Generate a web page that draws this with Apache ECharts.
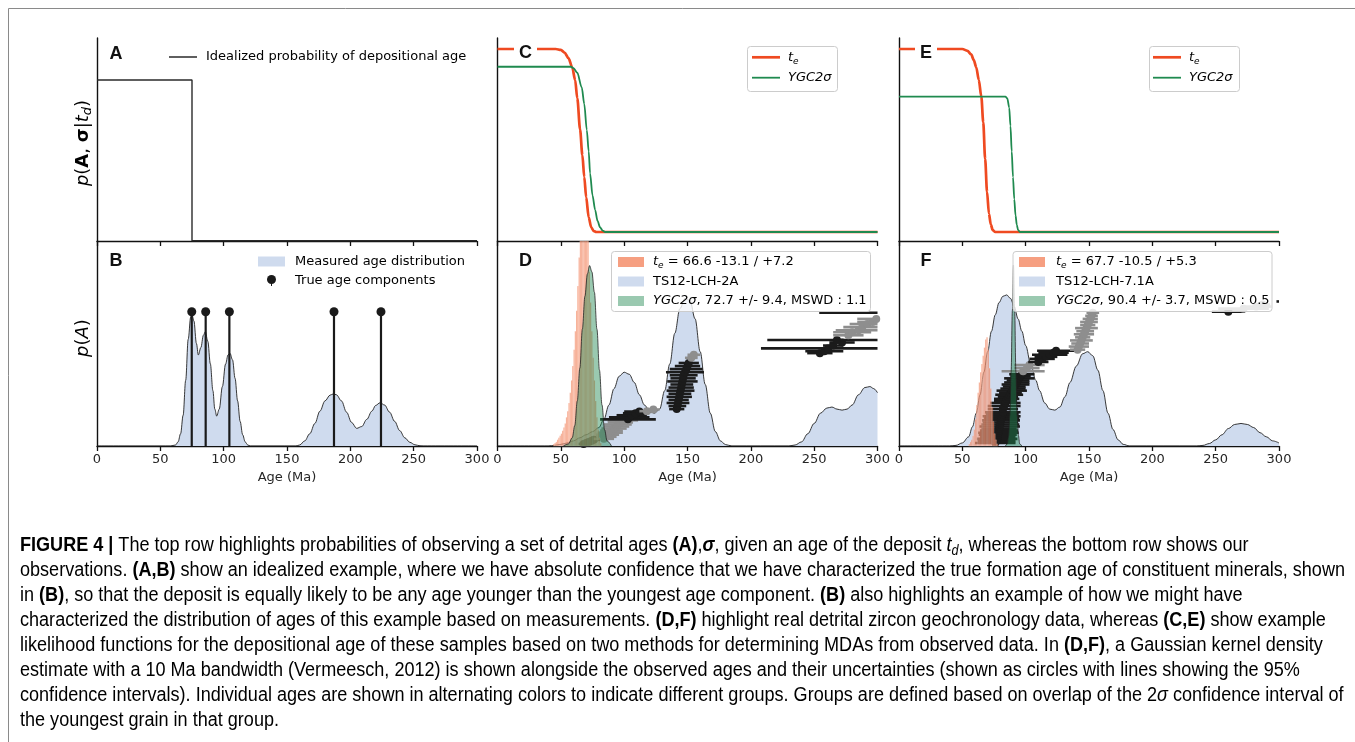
<!DOCTYPE html>
<html><head><meta charset="utf-8">
<script src="https://cdn.jsdelivr.net/npm/echarts@6/dist/echarts.min.js"></script>
<style>html,body{margin:0;padding:0;background:#fff}#c{width:1355px;height:742px}</style>
</head><body><div id="c"></div>
<script>
// ---------------- DATA ----------------
const ageTicks = [0, 50, 100, 150, 200, 250, 300];
// Panel A: idealized step probability [age, p]
const aStep = [[0,1],[75,1],[75,0],[300,0]];
// Panel B: measured age distribution (KDE) [age, density]
const bKde = [[0,0],[58,0],[62,0.005],[64,0.02],[66,0.06],[68,0.15],[70,0.32],[72,0.52],[74,0.63],[75,0.64],[76.5,0.61],[78.5,0.5],[80,0.444],[82,0.48],[84,0.54],[85.5,0.557],[87.5,0.51],[89.5,0.4],[91.5,0.27],[93,0.18],[94.5,0.146],[96.5,0.18],[99,0.29],[101.5,0.4],[103.5,0.445],[105,0.452],[107,0.42],[109,0.33],[111,0.22],[113,0.12],[115,0.055],[117,0.02],[119,0.005],[121,0],
 [157,0],[160,0.005],[164,0.025],[168,0.06],[172,0.11],[176,0.17],[180,0.22],[184,0.248],[186.5,0.254],[189,0.25],[193,0.22],[197,0.165],[201,0.115],[205,0.086],[209,0.095],[213,0.13],[217,0.17],[220,0.198],[223.5,0.211],[227,0.2],[231,0.165],[235,0.12],[239,0.075],[243,0.04],[247,0.018],[251,0.006],[255,0.001],[258,0],[300,0]];
// Panel B: true age components [age, height]
const bTrue = [[74.8,0.655],[85.8,0.655],[104.5,0.655],[187.1,0.655],[224.2,0.655]];
// Panel C likelihoods [age, L]
const cTe = [[0,1],[46,1],[50,0.995],[53,0.98],[56,0.95],[59,0.9],[61.3,0.83],[63,0.73],[65.2,0.56],[67,0.42],[68.5,0.3],[70,0.19],[72,0.08],[74,0.025],[76,0.005],[78,0],[300,0]];
const cYgc = [[0,0.903],[58,0.903],[60,0.895],[63,0.87],[66.5,0.79],[68.5,0.7],[70.5,0.557],[72,0.44],[73.1,0.32],[75,0.2],[77.1,0.12],[79,0.06],[81,0.025],[83,0.008],[85,0],[300,0]];
// Panel E likelihoods
const eTe = [[0,1],[50,1],[54,0.99],[57,0.97],[59,0.94],[61,0.9],[63,0.83],[65,0.74],[66.5,0.6],[68,0.4],[69.5,0.22],[71,0.1],[72.5,0.04],[74,0.01],[76,0],[300,0]];
const eYgc = [[0,0.74],[84,0.74],[85.5,0.73],[87,0.68],[88,0.58],[89,0.44],[90,0.3],[91,0.18],[92,0.09],[93,0.04],[94,0.01],[95.5,0],[300,0]];
// Panel D: KDE of TS12-LCH-2A
const dKde = [[0,0],[40,0],[45,0.003],[50,0.008],[55,0.015],[60,0.025],[65,0.04],[70,0.055],[75,0.07],[80,0.09],[84,0.13],[88,0.2],[92,0.28],[96,0.34],[100,0.36],[104,0.35],[108,0.31],[112,0.25],[116,0.2],[120,0.17],[124,0.16],[128,0.18],[132,0.27],[136,0.4],[140,0.55],[144,0.67],[148,0.72],[152,0.71],[156,0.62],[160,0.46],[164,0.3],[168,0.16],[172,0.07],[176,0.025],[180,0.007],[185,0],[230,0],[235,0.005],[240,0.02],[245,0.06],[250,0.11],[255,0.16],[260,0.185],[264,0.19],[268,0.18],[272,0.175],[276,0.18],[280,0.2],[285,0.25],[290,0.285],[294,0.29],[297,0.28],[300,0.26]];
// Panel D: t_e posterior histogram [bin left edge, height], 1 Ma bins
const histBin = 1;
const dHist = [[44,0.01],[45,0.015],[46,0.02],[47,0.03],[48,0.04],[49,0.05],[50,0.06],[51,0.075],[52,0.09],[53,0.11],[54,0.14],[55,0.17],[56,0.21],[57,0.26],[58,0.32],[59,0.39],[60,0.47],[61,0.56],[62,0.66],[63,0.78],[64,0.92],[65,1.05],[66,1.1],[67,1.1],[68,1.1],[69,1.1],[70,1.1],[71,1.0],[72,0.85],[73,0.7],[74,0.56],[75,0.43],[76,0.32],[77,0.22],[78,0.14],[79,0.08],[80,0.04],[81,0.015]];
// Panel D: YGC2sigma gaussian
const dYgc = [[52,0],[56,0.01],[59,0.04],[61,0.1],[63,0.22],[65,0.38],[67,0.57],[69,0.73],[71,0.84],[72.7,0.88],[74.5,0.85],[76.5,0.75],[78.5,0.57],[80.5,0.37],[82.5,0.2],[84.5,0.08],[86.5,0.025],[90,0]];
// Panel D grains [age, 2sigma, plotted height, group (0 black / 1 gray)]
const dGrains = [
 [68,4,0.01,0],[70,4,0.015,0],[72,5,0.02,0],[74,5,0.025,0],[76,5,0.03,0],
 [84,8,0.035,1],[86,8,0.045,1],[87,9,0.055,1],[89,10,0.065,1],[90,9,0.075,1],[92,10,0.085,1],[94,10,0.095,1],[95,11,0.105,1],[97,10,0.115,1],[99,12,0.125,1],
 [103,22,0.13,0],[104,16,0.14,0],[106,12,0.15,0],[109,10,0.16,0],[112,12,0.168,0],
 [118,6,0.17,1],[123,5,0.178,1],
 [141.5,6,0.18,0],[142,7,0.195,0],[142.5,9,0.21,0],[143,8,0.225,0],[143.5,10,0.24,0],[144,9,0.255,0],[144.5,11,0.27,0],[145,10,0.285,0],[145.5,9,0.3,0],[146,12,0.315,0],[146.5,10,0.33,0],[147,11,0.345,0],[148,15,0.36,0],[149,13,0.375,0],[150,10,0.39,0],[151,8,0.405,0],
 [153,5,0.43,1],[155,5,0.445,1],
 [254.5,10,0.453,0],[258,15,0.462,0],[261,53,0.476,0],[265,8,0.49,0],[272,10,0.505,0],[268,55,0.517,0],
 [277,12,0.54,1],[280,15,0.555,1],[285,18,0.565,1],[288,15,0.58,1],[292,14,0.595,1],[296,12,0.605,1],[299,15,0.62,1],
 [310,10,0.632,0],[305,51,0.65,0]
];
// Panel F: KDE of TS12-LCH-7.1A
const fKde = [[0,0],[40,0],[45,0.003],[50,0.015],[55,0.045],[58,0.094],[61,0.16],[64,0.25],[67,0.36],[70,0.46],[73,0.56],[76,0.64],[79,0.7],[82,0.73],[85,0.737],[88,0.72],[91,0.68],[94,0.62],[97,0.56],[100,0.49],[104,0.4],[108,0.32],[111,0.27],[115,0.21],[119,0.18],[123,0.175],[127,0.19],[131,0.24],[135,0.31],[140,0.39],[145,0.45],[149,0.46],[153,0.44],[157,0.37],[161,0.27],[165,0.16],[169,0.08],[173,0.03],[177,0.008],[182,0],[235,0],[240,0.003],[245,0.012],[250,0.03],[255,0.055],[260,0.085],[265,0.105],[270,0.11],[275,0.105],[280,0.09],[285,0.065],[290,0.045],[295,0.025],[300,0.015]];
const fHist = [[55,0.01],[56,0.02],[57,0.03],[58,0.05],[59,0.08],[60,0.13],[61,0.2],[62,0.26],[63,0.31],[64,0.36],[65,0.4],[66,0.44],[67,0.48],[68,0.52],[69,0.53],[70,0.47],[71,0.38],[72,0.28],[73,0.19],[74,0.12],[75,0.06],[76,0.03],[77,0.01]];
const fYgc = [[84,0],[85.5,0.01],[86.5,0.05],[87.5,0.15],[88.5,0.36],[89.5,0.66],[90.4,0.883],[91.3,0.66],[92.3,0.36],[93.3,0.15],[94.3,0.05],[95.3,0.01],[97,0]];
const fGrains = [
 [76,16,0.015,0],[77,15,0.025,0],[77.5,16,0.035,0],[78,14,0.045,0],[78,15,0.055,0],[78.5,16,0.065,0],[79,15,0.075,0],[79,14,0.085,0],[79.5,16,0.095,0],[80,15,0.105,0],[80,14,0.115,0],[80.5,15,0.125,0],[81,14,0.135,0],[81,15,0.145,0],[81.5,13,0.155,0],[82,14,0.165,0],[82,12,0.18,0],[83,13,0.195,0],[84,12,0.21,0],
 [84,9,0.22,0],[85,10,0.23,0],[86,8,0.24,0],[87,11,0.25,0],[88,9,0.26,0],[89,12,0.27,0],[90,10,0.28,0],[91,9,0.29,0],[92,11,0.3,0],[93,10,0.31,0],[94,9,0.32,0],[95,12,0.33,0],[96,8,0.34,0],[97,10,0.35,0],
 [98,17,0.365,1],[101,10,0.38,1],[103,12,0.395,1],
 [110,8,0.41,0],[113,10,0.425,0],[116,9,0.435,0],[119,14,0.445,0],[122,12,0.455,0],[124,15,0.465,0],
 [141,6,0.47,1],[142,8,0.485,1],[143,7,0.5,1],[144,9,0.515,1],[145,6,0.53,1],[146,8,0.545,1],[147,7,0.56,1],[148,9,0.575,1],[149,6,0.59,1],[150,7,0.605,1],[151,6,0.62,1],[152,5,0.635,1],[153,5,0.65,1],
 [260,13,0.655,0],
 [272,20,0.67,1],[282,12,0.68,1],[287,6,0.69,1],
 [310,12,0.705,0]
];
// Text
const legendD = ['= 66.6 -13.1 / +7.2', 'TS12-LCH-2A', ', 72.7 +/- 9.4, MSWD : 1.1'];
const legendF = ['= 67.7 -10.5 / +5.3', 'TS12-LCH-7.1A', ', 90.4 +/- 3.7, MSWD : 0.5'];
const captionLines = [
 [['b','FIGURE 4 | '],['n','The top row highlights probabilities of observing a set of detrital ages '],['b','(A)'],['n',','],['bi','σ'],['n',', given an age of the deposit '],['it','t'],['sub','d'],['n',', whereas the bottom row shows our']],
 [['n','observations. '],['b','(A,B)'],['n',' show an idealized example, where we have absolute confidence that we have characterized the true formation age of constituent minerals, shown']],
 [['n','in '],['b','(B)'],['n',', so that the deposit is equally likely to be any age younger than the youngest age component. '],['b','(B)'],['n',' also highlights an example of how we might have']],
 [['n','characterized the distribution of ages of this example based on measurements. '],['b','(D,F)'],['n',' highlight real detrital zircon geochronology data, whereas '],['b','(C,E)'],['n',' show example']],
 [['n','likelihood functions for the depositional age of these samples based on two methods for determining MDAs from observed data. In '],['b','(D,F)'],['n',', a Gaussian kernel density']],
 [['n','estimate with a 10 Ma bandwidth ('],['g','Vermeesch, 2012'],['n',') is shown alongside the observed ages and their uncertainties (shown as circles with lines showing the 95%']],
 [['n','confidence intervals). Individual ages are shown in alternating colors to indicate different groups. Groups are defined based on overlap of the 2'],['it','σ'],['n',' confidence interval of']],
 [['n','the youngest grain in that group.']]
];

// ---------------- STYLE / LAYOUT ----------------
const ORANGE = '#ef4a21', GREEN = '#1f8a4f', BLUE_FILL = '#cfdbee';
const HIST_FILL = 'rgba(240,95,45,0.6)', GREEN_FILL = 'rgba(30,135,80,0.45)';
const AX = '#111', TXT = '#262626', FONT = 'DejaVu Sans';
const cols = [97, 497.5, 899], W = 380;
const grids = [];
cols.forEach(l => { grids.push({left:l, top:38, width:W, height:203, outerBoundsMode:'none', containLabel:false});
                    grids.push({left:l, top:241, width:W, height:205, outerBoundsMode:'none', containLabel:false}); });
const yRanges = [[-0.002,1.261],[0,1],[-0.0492,1.06],[0,1],[-0.0492,1.06],[0,1]];
const xAxes = grids.map((g,i)=>{ const bottom = i%2===1; return {
  gridIndex:i, type:'value', min:ageTicks[0], max:ageTicks[ageTicks.length-1], interval:ageTicks[1]-ageTicks[0],
  axisLine:{show:true,onZero:false,lineStyle:{color:AX,width:1.4}},
  axisTick:{show:true,length:5,lineStyle:{color:AX,width:1.3}},
  axisLabel:{show:bottom,color:TXT,fontSize:13,fontFamily:FONT,margin:7},
  splitLine:{show:false},
  name: bottom?'Age (Ma)':'', nameLocation:'middle', nameGap:25,
  nameTextStyle:{color:TXT,fontSize:13,fontFamily:FONT}
};});
const yAxes = grids.map((g,i)=>({gridIndex:i, type:'value', min:yRanges[i][0], max:yRanges[i][1],
  axisLine:{show:true,onZero:false,lineStyle:{color:AX,width:1.4}}, axisTick:{show:false}, axisLabel:{show:false}, splitLine:{show:false}}));

function grainRender(params, api){
  const cs = params.coordSys;
  const age=api.value(0), err=api.value(1), yv=api.value(2), g=api.value(3);
  const p0=api.coord([age-err,yv]), p1=api.coord([age+err,yv]), pc=api.coord([age,yv]);
  const xmin=cs.x, xmax=cs.x+cs.width;
  const x1=Math.max(p0[0],xmin), x2=Math.min(p1[0],xmax);
  const col = g ? '#8e8e8e' : '#1b1b1b';
  const ch=[];
  if(x2>x1) ch.push({type:'line', shape:{x1:x1,y1:pc[1],x2:x2,y2:pc[1]}, style:{stroke:col,lineWidth:2.6}});
  if(pc[0]>=xmin && pc[0]<=xmax) ch.push({type:'circle', shape:{cx:pc[0],cy:pc[1],r:4}, style:{fill:col}});
  return {type:'group', children:ch};
}
function histRender(params, api){
  const cs=params.coordSys; const l=api.value(0), h=api.value(1);
  const a=api.coord([l,0]), b=api.coord([l+histBin,h]); const top=Math.max(b[1],cs.y);
  return {type:'rect', shape:{x:a[0],y:top,width:b[0]-a[0],height:a[1]-top},
    style:{fill:HIST_FILL, stroke:'rgba(255,255,255,0.45)', lineWidth:0.5}};
}
function stemRender(params, api){
  const p0=api.coord([api.value(0),0]), p1=api.coord([api.value(0),api.value(1)]);
  return {type:'group', children:[
    {type:'line', shape:{x1:p0[0],y1:p0[1],x2:p1[0],y2:p1[1]}, style:{stroke:'#1a1a1a',lineWidth:2.2}},
    {type:'circle', shape:{cx:p1[0],cy:p1[1],r:4.5}, style:{fill:'#1a1a1a'}}]};
}
function kde(idx, data){ return {type:'line', xAxisIndex:idx, yAxisIndex:idx, data, symbol:'none', smooth:0.35, smoothMonotone:'x',
  lineStyle:{color:'#222',width:0.9}, areaStyle:{color:BLUE_FILL,opacity:1}, z:1, silent:true}; }
function curve(idx, data, color, w){ return {type:'line', xAxisIndex:idx, yAxisIndex:idx, data, symbol:'none', smooth:0.3, smoothMonotone:'x',
  lineStyle:{color,width:w}, z:3, silent:true}; }
function ygcFill(idx, data){ return {type:'line', xAxisIndex:idx, yAxisIndex:idx, data, symbol:'none', smooth:0.35, smoothMonotone:'x',
  lineStyle:{color:'#222',width:0.8}, areaStyle:{color:GREEN_FILL,opacity:1}, z:5, silent:true}; }
function grains(idx, data){ return {type:'custom', xAxisIndex:idx, yAxisIndex:idx, data, renderItem:grainRender, encode:{x:0,y:2}, z:2, silent:true}; }
function hist(idx, data){ return {type:'custom', xAxisIndex:idx, yAxisIndex:idx, data, renderItem:histRender, encode:{x:0,y:1}, z:4, silent:true}; }

const series = [
  {type:'line', xAxisIndex:0, yAxisIndex:0, data:aStep, symbol:'none', lineStyle:{color:'#2a2a2a',width:1.4}, z:3, silent:true},
  kde(1,bKde),
  {type:'custom', xAxisIndex:1, yAxisIndex:1, data:bTrue, renderItem:stemRender, encode:{x:0,y:1}, z:3, silent:true},
  curve(2,cTe,ORANGE,2.7), curve(2,cYgc,GREEN,1.8),
  kde(3,dKde), grains(3,dGrains), hist(3,dHist), ygcFill(3,dYgc),
  curve(4,eTe,ORANGE,2.7), curve(4,eYgc,GREEN,1.8),
  kde(5,fKde), grains(5,fGrains), hist(5,fHist), ygcFill(5,fYgc)
];

// ---------------- TEXT HELPERS ----------------
function richSet(fs, fam, color){ const lh=Math.round(fs*1.3), sfs=Math.round(fs*0.7); return {
  n:{fontSize:fs,fontFamily:fam,color:color,lineHeight:lh},
  b:{fontSize:fs,fontFamily:fam,fontWeight:'bold',color:color,lineHeight:lh},
  it:{fontSize:fs,fontFamily:fam,fontStyle:'italic',color:color,lineHeight:lh},
  bi:{fontSize:fs,fontFamily:fam,fontWeight:'bold',fontStyle:'italic',color:color,lineHeight:lh},
  g:{fontSize:fs,fontFamily:fam,color:'#8a8a8a',lineHeight:lh},
  sub:{fontSize:sfs,fontFamily:fam,fontStyle:'italic',color:color,lineHeight:sfs,verticalAlign:'bottom'}
};}
function rt(segs){ return segs.map(s=>'{'+s[0]+'|'+s[1]+'}').join(''); }
function txt(x, y, segs, fs, fam, color, extra){
  return Object.assign({type:'text', x:x, y:y, z:100, silent:true, style:{text:rt(segs), rich:richSet(fs,fam,color),
    align:'left', verticalAlign:'middle', textAlign:'left', textVerticalAlign:'middle'}}, extra||{});
}
function measureSegs(segs, fs, fam){
  const ctx=document.createElement('canvas').getContext('2d'); const rs=richSet(fs,fam,'#000'); let w=0;
  segs.forEach(s=>{ const st=rs[s[0]]; ctx.font=(st.fontStyle||'normal')+' '+(st.fontWeight||'normal')+' '+st.fontSize+'px '+fam; w+=ctx.measureText(s[1]).width; });
  return w;
}
const g = [];
// outer frame
g.push({type:'rect', z:0, silent:true, shape:{x:8.5,y:8.5,width:1400,height:800}, style:{fill:'none',stroke:'#8a8a8a',lineWidth:1}});
// panel letters
const letters = [['A',116,54],['B',116,261],['C',525.5,53],['D',525.5,261],['E',926,53],['F',926,261]];
letters.forEach(L=>{ g.push({type:'text', x:L[1], y:L[2], z:100, silent:true, style:{text:L[0], fontSize:18, fontWeight:'bold', fontFamily:'Liberation Sans',
  fill:'#111', align:'center', verticalAlign:'middle', textAlign:'center', textVerticalAlign:'middle',
  backgroundColor:(L[0]==='C'||L[0]==='E')?'#fff':'transparent', padding:[1,5]}}); });
// y labels
const yl1 = [['it','p'],['n','('],['b','A'],['n',', '],['b','σ'],['n','|'],['it','t'],['sub','d'],['n',')']];
const yl2 = [['it','p'],['n','('],['it','A'],['n',')']];
[[yl1,143],[yl2,338]].forEach(p=>{
  g.push({type:'text', x:83, y:p[1], z:100, silent:true, rotation:Math.PI/2, style:{text:rt(p[0]), rich:richSet(18,FONT,TXT),
    align:'center',verticalAlign:'middle',textAlign:'center',textVerticalAlign:'middle'}});
});
// Legend A
g.push({type:'line', z:100, silent:true, shape:{x1:169,y1:57,x2:197,y2:57}, style:{stroke:'#2a2a2a',lineWidth:1.5}});
g.push(txt(206, 57, [['n','Idealized probability of depositional age']], 13, FONT, TXT));
// Legend B
g.push({type:'rect', z:100, silent:true, shape:{x:258,y:256.5,width:27,height:10}, style:{fill:BLUE_FILL}});
g.push(txt(295, 261.5, [['n','Measured age distribution']], 13, FONT, TXT));
g.push({type:'line', z:100, silent:true, shape:{x1:271.5,y1:280,x2:271.5,y2:286}, style:{stroke:'#1a1a1a',lineWidth:1}});
g.push({type:'circle', z:100, silent:true, shape:{cx:271.5,cy:279.5,r:4.5}, style:{fill:'#1a1a1a'}});
g.push(txt(295, 281, [['n','True age components']], 13, FONT, TXT));
// Legends C, E
[[747.5,752,788],[1149.5,1153,1189]].forEach(p=>{
  g.push({type:'rect', z:99, silent:true, shape:{x:p[0],y:46.5,width:90,height:45,r:3}, style:{fill:'rgba(255,255,255,0.8)',stroke:'#cccccc',lineWidth:1}});
  g.push({type:'line', z:100, silent:true, shape:{x1:p[1],y1:57.3,x2:p[1]+28,y2:57.3}, style:{stroke:ORANGE,lineWidth:2.7}});
  g.push({type:'line', z:100, silent:true, shape:{x1:p[1],y1:77.7,x2:p[1]+28,y2:77.7}, style:{stroke:GREEN,lineWidth:1.8}});
  g.push(txt(p[2], 57.3, [['it','t'],['sub','e']], 13, FONT, TXT));
  g.push(txt(p[2], 77.7, [['it','YGC2σ']], 13, FONT, TXT));
});
// Legends D, F
[[611.5,618,653,legendD],[1013,1019,1056,legendF]].forEach(p=>{
  g.push({type:'rect', z:99, silent:true, shape:{x:p[0],y:251.5,width:259,height:60,r:3}, style:{fill:'rgba(255,255,255,0.8)',stroke:'#cccccc',lineWidth:1}});
  g.push({type:'rect', z:100, silent:true, shape:{x:p[1],y:257,width:26,height:10}, style:{fill:HIST_FILL}});
  g.push({type:'rect', z:100, silent:true, shape:{x:p[1],y:276.5,width:26,height:10}, style:{fill:BLUE_FILL}});
  g.push({type:'rect', z:100, silent:true, shape:{x:p[1],y:296,width:26,height:10}, style:{fill:GREEN_FILL}});
  g.push(txt(p[2], 262, [['it','t'],['sub','e'],['n',' '+p[3][0]]], 13, FONT, TXT));
  g.push(txt(p[2], 281.5, [['n',p[3][1]]], 13, FONT, TXT));
  g.push(txt(p[2], 301, [['it','YGC2σ'],['n',p[3][2]]], 13, FONT, TXT));
});
// Caption: condensed sans via horizontal scaling, sized so the second line spans 20..1345 px
const CAP_FONT = 'Liberation Sans', CAP_FS = 20;
const capScale = 1325 / measureSegs(captionLines[1], CAP_FS, CAP_FONT);
captionLines.forEach((segs,i)=>{ g.push(txt(20, 545+25*i, segs, CAP_FS, CAP_FONT, '#2e2e2e', {scaleX:capScale, scaleY:1})); });

const chart = echarts.init(document.getElementById('c'), null, {renderer:'canvas'});
chart.setOption({animation:false, backgroundColor:'#fff', grid:grids, xAxis:xAxes, yAxis:yAxes, series:series, graphic:{elements:g}});
</script></body></html>
